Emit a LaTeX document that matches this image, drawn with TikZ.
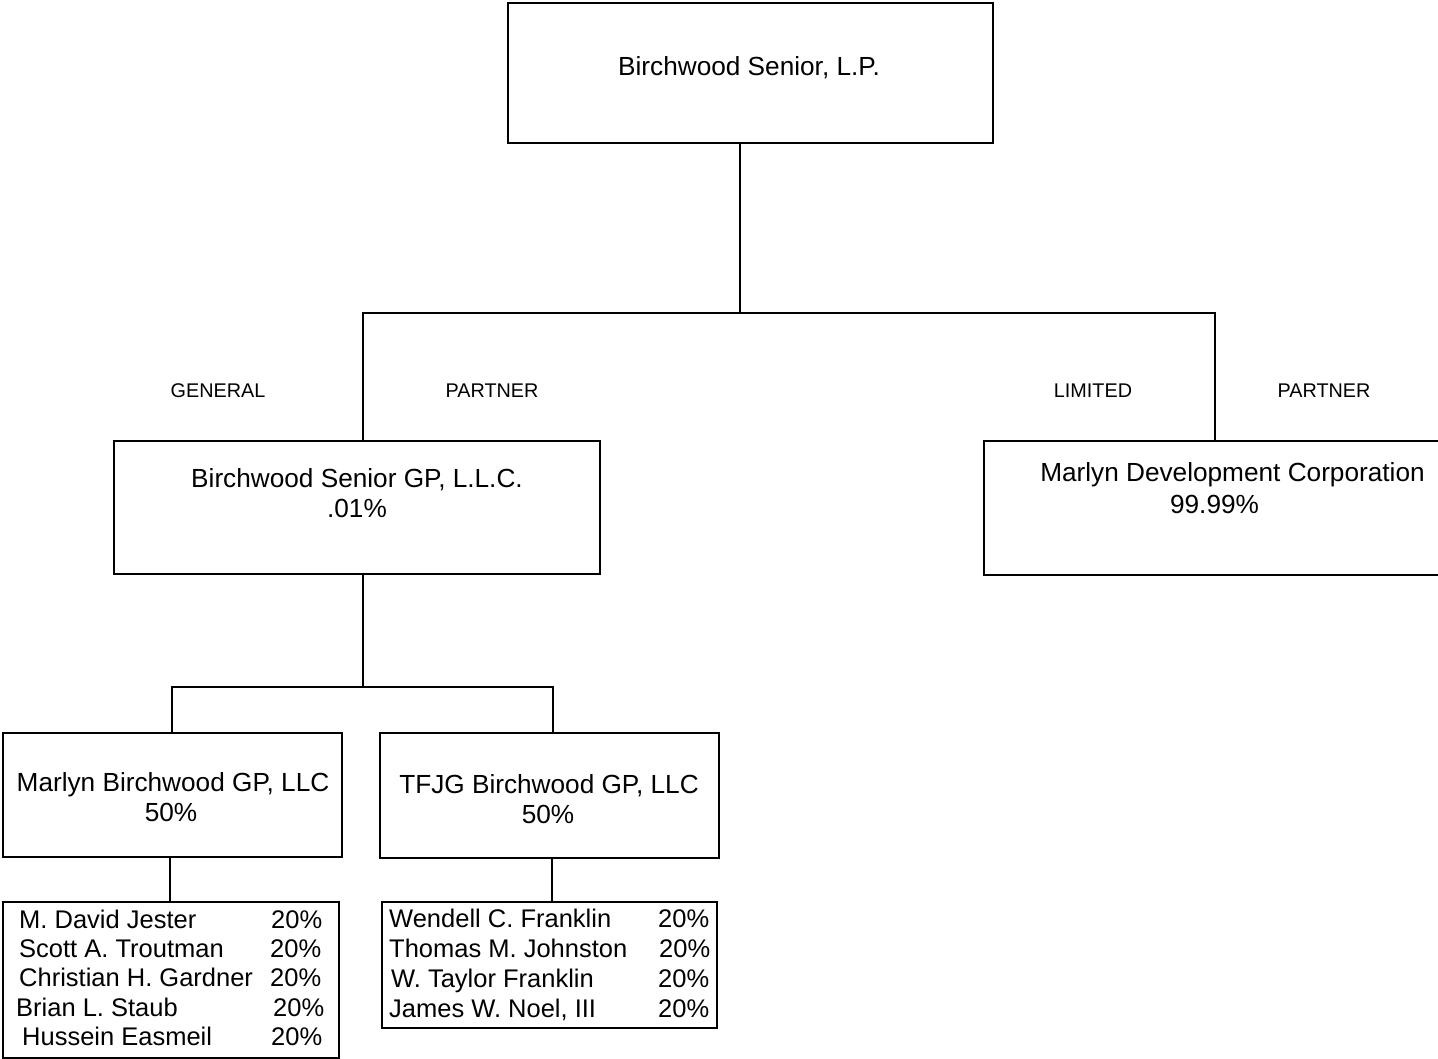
\documentclass[tikz,border=0pt]{standalone}
\usepackage{fontspec}
\setmainfont{Liberation Sans}
\begin{document}
\begin{tikzpicture}[x=1pt,y=-1pt,
  box/.style={draw=black, line width=1.2pt, rectangle, inner sep=0pt},
  conn/.style={draw=black, line width=1.2pt},
  txt/.style={inner sep=0pt, anchor=base, font=\fontsize{26.2}{30}\selectfont},
  row/.style={inner sep=0pt, anchor=base west, font=\fontsize{25.5}{30}\selectfont},
  lbl/.style={inner sep=0pt, anchor=base, font=\fontsize{19.8}{23}\selectfont}]
\useasboundingbox (0,0) rectangle (1438,1059);
% boxes
\node[box, minimum width=485pt, minimum height=140pt] (top) at (750.5,73) {};
\node[box, minimum width=486pt, minimum height=133pt] (gp) at (357,507.5) {};
\node[box, minimum width=466pt, minimum height=134pt] (mdc) at (1217,508) {};
\node[box, minimum width=339pt, minimum height=124pt] (mbg) at (172.5,795) {};
\node[box, minimum width=339pt, minimum height=125pt] (tfjg) at (549.5,795.5) {};
\node[box, minimum width=336pt, minimum height=156pt] (mlist) at (171,980) {};
\node[box, minimum width=335pt, minimum height=126pt] (tlist) at (549.5,965) {};
% connectors
\coordinate (j1) at (740,313);
\coordinate (jl) at (363,313);
\coordinate (jr) at (1215,313);
\draw[conn] (top.south -| j1) -- (j1);
\draw[conn] (gp.north -| jl) -- (jl) -- (jr) -- (mdc.north -| jr);
\coordinate (j2) at (363,687);
\coordinate (j2l) at (172,687);
\coordinate (j2r) at (553,687);
\draw[conn] (gp.south -| j2) -- (j2);
\draw[conn] (mbg.north -| j2l) -- (j2l) -- (j2r) -- (tfjg.north -| j2r);
\coordinate (c1) at (170,880);
\coordinate (c2) at (552,880);
\draw[conn] (mbg.south -| c1) -- (mlist.north -| c1);
\draw[conn] (tfjg.south -| c2) -- (tlist.north -| c2);
% texts
\node[txt] (ttop) at (749,76) {Birchwood Senior, L.P.};
\node[lbl] (gen) at (218,397) {GENERAL};
\node[lbl] (gpart) at (492,397) {PARTNER};
\node[lbl] (lim) at (1093,397) {LIMITED};
\node[lbl] (lpart) at (1324,397) {PARTNER};
\node[txt] (tgp1) at (357,487) {Birchwood Senior GP, L.L.C.};
\node[txt] (tgp2) at (357,517) {.01\%};
\node[txt] (tmdc1) at (1232.5,481.5) {Marlyn Development Corporation};
\node[txt] (tmdc2) at (1214.5,513) {99.99\%};
\node[txt] (tmbg1) at (173,791.5) {Marlyn Birchwood GP, LLC};
\node[txt] (tmbg2) at (171,821.5) {50\%};
\node[txt] (ttf1) at (549,793) {TFJG Birchwood GP, LLC};
\node[txt] (ttf2) at (548,823) {50\%};
% left list
\node[row] (m1) at (19,928) {M. David Jester};
\node[row] (m1p) at (271,928) {20\%};
\node[row] (m2) at (19,957.5) {Scott A. Troutman};
\node[row] (m2p) at (270,957.5) {20\%};
\node[row] (m3) at (19,986.5) {Christian H. Gardner};
\node[row] (m3p) at (270,986.5) {20\%};
\node[row] (m4) at (16,1016) {Brian L. Staub};
\node[row] (m4p) at (273,1016) {20\%};
\node[row] (m5) at (22,1045) {Hussein Easmeil};
\node[row] (m5p) at (271,1045) {20\%};
% right list
\node[row] (t1) at (389,927) {Wendell C. Franklin};
\node[row] (t1p) at (658,927) {20\%};
\node[row] (t2) at (389,957) {Thomas M. Johnston};
\node[row] (t2p) at (659,957) {20\%};
\node[row] (t3) at (391,987) {W. Taylor Franklin};
\node[row] (t3p) at (658,987) {20\%};
\node[row] (t4) at (389,1017) {James W. Noel, III};
\node[row] (t4p) at (658,1017) {20\%};
\end{tikzpicture}
\end{document}
